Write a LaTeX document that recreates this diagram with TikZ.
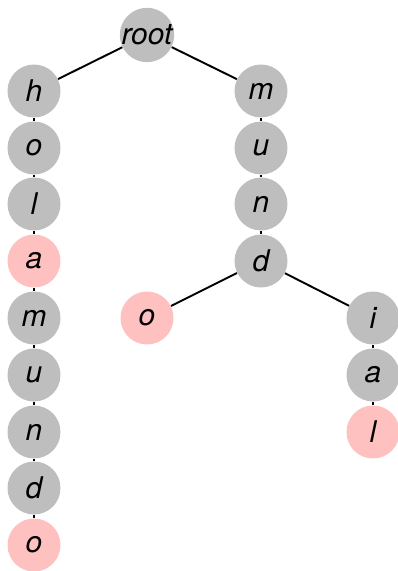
\documentclass[tikz,border=0pt]{standalone}
\usepackage{fontspec}
\setmainfont{TeX Gyre Heros}
\definecolor{nodegray}{RGB}{190,190,190}
\definecolor{nodepink}{RGB}{255,192,192}

\begin{document}
\begin{tikzpicture}[x=0.02cm,y=-0.02cm,
  letter/.style={circle,fill=nodegray,minimum size=1.06cm,inner sep=0pt,
    font=\itshape\fontsize{17}{17}\selectfont},
  endword/.style={letter,fill=nodepink},
  edge/.style={line width=1.1pt}]
  \useasboundingbox (0,0) rectangle (398,571);

  \node[letter] (root) at (147,35) {root};

  % left branch: hola, holamundo
  \node[letter]  (h1) at (34,91)  {h};
  \node[letter]  (o1) at (34,148) {o};
  \node[letter]  (l1) at (34,204) {l};
  \node[endword] (a1) at (34,261) {a};
  \node[letter]  (m1) at (34,318) {m};
  \node[letter]  (u1) at (34,375) {u};
  \node[letter]  (n1) at (34,432) {n};
  \node[letter]  (d1) at (34,488) {d};
  \node[endword] (o2) at (34,545) {o};

  % right branch: mundo, mundial
  \node[letter]  (m2) at (261,91)  {m};
  \node[letter]  (u2) at (261,148) {u};
  \node[letter]  (n2) at (261,204) {n};
  \node[letter]  (d2) at (261,261) {d};
  \node[endword] (o3) at (147,318) {o};
  \node[letter]  (i1) at (373,318) {i};
  \node[letter]  (a2) at (373,375) {a};
  \node[endword] (l2) at (373,432) {l};

  \draw[edge] (root) -- (h1);
  \draw[edge] (root) -- (m2);
  \foreach \a/\b in {h1/o1,o1/l1,l1/a1,a1/m1,m1/u1,u1/n1,n1/d1,d1/o2,
                     m2/u2,u2/n2,n2/d2,d2/o3,d2/i1,i1/a2,a2/l2}
    \draw[edge] (\a) -- (\b);
\end{tikzpicture}
\end{document}
